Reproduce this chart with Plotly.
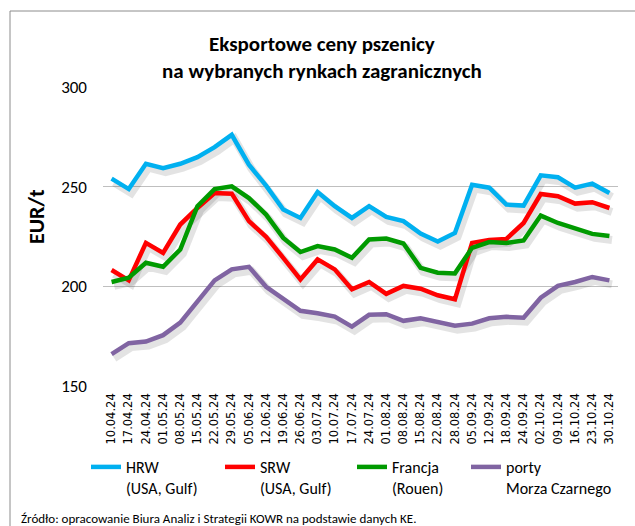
import plotly.graph_objects as go

dates = ["10.04.24", "17.04.24", "24.04.24", "01.05.24", "08.05.24", "15.05.24",
         "22.05.24", "29.05.24", "05.06.24", "12.06.24", "19.06.24", "26.06.24",
         "03.07.24", "10.07.24", "17.07.24", "24.07.24", "01.08.24", "08.08.24",
         "15.08.24", "22.08.24", "28.08.24", "05.09.24", "12.09.24", "18.09.24",
         "24.09.24", "02.10.24", "09.10.24", "16.10.24", "23.10.24", "30.10.24"]

hrw = [254, 248.8, 261.5, 259.3, 261.5, 264.8, 269.8, 276, 261, 250.5,
       238.5, 234.3, 247.3, 240.2, 234.3, 240.2, 234.8, 232.7, 226.5, 222.5,
       226.8, 251, 249.5, 241, 240.5, 255.7, 254.7, 249.5, 251.5, 246.8]
srw = [208.2, 203, 221.8, 216.8, 231, 239.3, 246.8, 246.5, 232.7, 224.8,
       214.3, 203.5, 213.5, 208.5, 198.5, 202.2, 196.2, 200.2, 198.8, 195.5,
       193.5, 221.8, 223.2, 223.8, 231.8, 246.3, 245.2, 241.5, 242.2, 239.3]
francja = [202.2, 204.3, 211.8, 209.8, 218.5, 240.2, 248.8, 250.2, 244.3, 236,
           224.3, 217.2, 220.2, 218.5, 214.3, 223.5, 224, 221.5, 209.3, 206.8,
           206.5, 219.3, 222.2, 221.8, 223, 235.5, 231.8, 229.3, 226.3, 225.2]
porty = [166, 171.5, 172.3, 175.5, 181.8, 192.7, 203, 208.5, 209.8, 199.8,
         193.8, 187.7, 186.5, 184.8, 179.8, 185.7, 186, 182.7, 184, 182.3,
         180.2, 181.3, 184, 184.7, 184.3, 194.3, 200.2, 202.2, 204.7, 203]

series_names = ["HRW<br>(USA, Gulf)", "SRW<br>(USA, Gulf)", "Francja<br>(Rouen)", "porty<br>Morza Czarnego"]
series_values = [hrw, srw, francja, porty]
series_colors = ["#00B0F0", "#FF0000", "#009A00", "#8064A2"]
legend_ids = ["legend", "legend2", "legend3", "legend4"]

FONT = "Carlito, Lato, 'Open Sans', sans-serif"
xs = list(range(len(dates)))

W, H = 635, 526
ml, mr, mt, mb = 103, 17, 87, 140
pw = W - ml - mr
ph = H - mt - mb

def px_x(p):
    return (p - ml) / pw

def px_y(p):
    return (H - mb - p) / ph

fig = go.Figure()

# soft drop shadows
for vals in series_values:
    fig.add_trace(go.Scatter(
        x=[x + 0.15 for x in xs], y=[v - 2.0 for v in vals], mode="lines",
        line=dict(color="rgba(0,0,0,0.11)", width=8),
        showlegend=False, hoverinfo="skip"))

for name, vals, col, lg in zip(series_names, series_values, series_colors, legend_ids):
    fig.add_trace(go.Scatter(
        x=xs, y=vals, mode="lines", name=name, legend=lg,
        line=dict(color=col, width=4.5)))

legend_starts = [93, 227, 359, 473]
legend_common = dict(orientation="h", xanchor="left", yanchor="top",
                     font=dict(family=FONT, size=16, color="black"),
                     valign="top", bgcolor="rgba(0,0,0,0)", itemwidth=30)
legend_layout = {}
for lg, sx in zip(legend_ids, legend_starts):
    legend_layout[lg] = dict(x=px_x(sx - 7), y=px_y(450), **legend_common)

fig.update_layout(
    width=W, height=H,
    margin=dict(l=ml, r=mr, t=mt, b=mb, autoexpand=False),
    paper_bgcolor="white", plot_bgcolor="white",
    font=dict(family=FONT, size=16, color="black"),
    title=dict(text="<b>Eksportowe ceny pszenicy<br>na wybranych rynkach zagranicznych</b>",
               x=0.507, xanchor="center", xref="container",
               y=1 - 51 / H, yanchor="middle", yref="container",
               font=dict(family=FONT, size=21, color="black")),
    xaxis=dict(range=[-0.5, len(dates) - 0.5], tickvals=xs, ticktext=dates,
               tickangle=-90, showgrid=False, zeroline=False, showline=False,
               ticks="", tickfont=dict(family="DejaVu Sans", size=11.5, color="black"),
               ticklabelstandoff=4),
    yaxis=dict(range=[150, 300], tickvals=[150, 200, 250, 300], showgrid=True,
               gridcolor="#BFBFBF", gridwidth=1, zeroline=False, showline=False,
               ticks="", tickfont=dict(family=FONT, size=17, color="black"),
               ticklabelstandoff=15),
    showlegend=True,
    annotations=[
        dict(text="<b>EUR/t</b>", x=px_x(36), y=px_y(217), xref="paper", yref="paper",
             textangle=-90, showarrow=False, xanchor="center", yanchor="middle",
             font=dict(family=FONT, size=22, color="black")),
        dict(text="Źródło: opracowanie Biura Analiz i Strategii KOWR na podstawie danych KE.",
             x=px_x(19), y=px_y(518), xref="paper", yref="paper", showarrow=False,
             xanchor="left", yanchor="middle",
             font=dict(family=FONT, size=13, color="black")),
    ],
    shapes=[
        dict(type="line", xref="paper", yref="paper", x0=px_x(10), x1=px_x(640),
             y0=px_y(11), y1=px_y(11), line=dict(color="#8C8C8C", width=1)),
        dict(type="line", xref="paper", yref="paper", x0=px_x(10), x1=px_x(10),
             y0=px_y(11), y1=px_y(530), line=dict(color="#8C8C8C", width=1)),
    ],
    **legend_layout,
)

fig.write_html("out.html", config={"displayModeBar": False},
               post_script="document.body.style.margin='0';")
